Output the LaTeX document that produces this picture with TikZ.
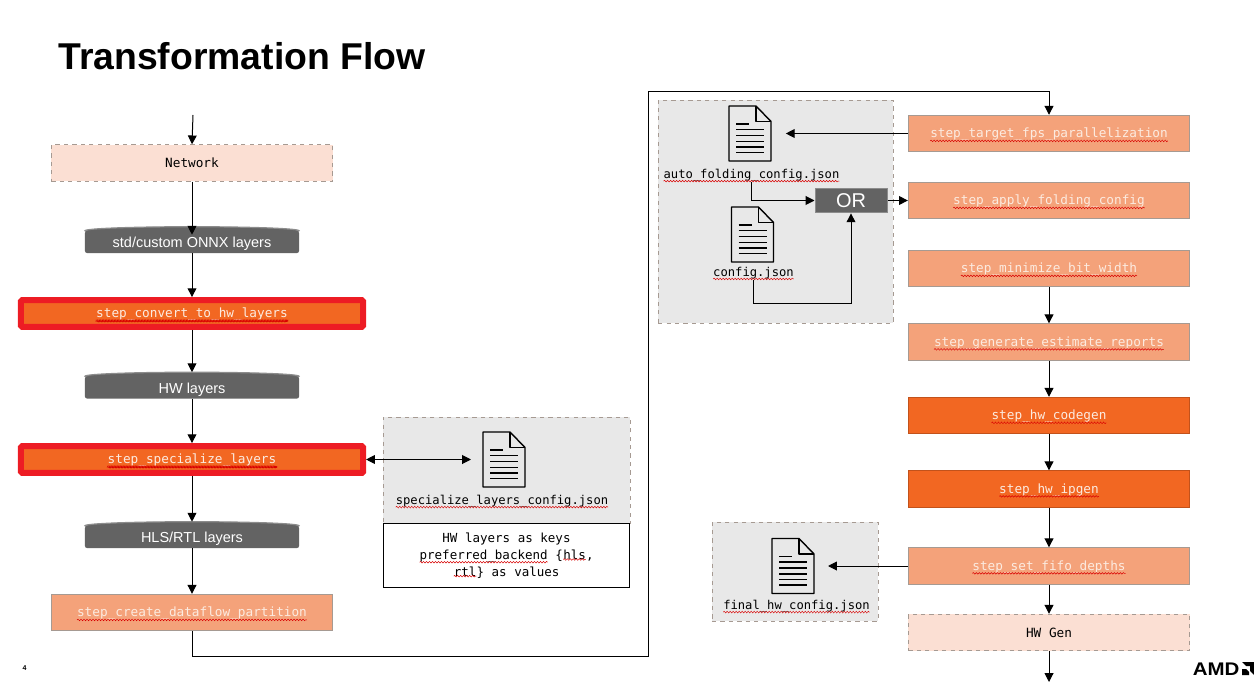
\documentclass[tikz,border=0pt]{standalone}
\usepackage{fontspec}
\setmainfont{Liberation Sans}
\newfontfamily\codefont{DejaVu Sans Mono}
\usetikzlibrary{positioning, calc, arrows.meta, shapes.geometric, decorations.pathmorphing}

\definecolor{hlpeach}{HTML}{FBDFD3}
\definecolor{stepsalmon}{HTML}{F4A27A}
\definecolor{steporange}{HTML}{F26722}
\definecolor{panelgray}{HTML}{E8E8E8}
\definecolor{diskgray}{HTML}{636363}
\definecolor{diskrim}{HTML}{8C8C8C}
\definecolor{edgegray}{HTML}{A69A92}
\definecolor{alertred}{HTML}{ED1C24}
\definecolor{steptext}{HTML}{FCEBE0}

\newcommand{\squig}[1]{\tikz[baseline=(w.base)]{\node[wavetext] (w) {#1}; \draw[wave] (w.south west) -- (w.south east); \path ([yshift=2.2pt]w.north);}}

\begin{document}
\begin{tikzpicture}[
        x=0.025cm, y=-0.025cm,
        stepbox/.style={rectangle, draw=edgegray, fill=stepsalmon, line width=0.25mm, minimum width=7.03cm, minimum height=0.91cm, text=steptext, font=\codefont\fontsize{9.05}{11}\selectfont},
        hwbox/.style={stepbox, fill=steporange, draw=steporange!80!black},
        redbox/.style={rectangle, rounded corners=0.3mm, draw=alertred, fill=steporange, line width=1.5mm, minimum width=8.55cm, minimum height=0.67cm, text=steptext, font=\codefont\fontsize{9.05}{11}\selectfont},
        netbox/.style={stepbox, fill=hlpeach, dashed, text=black},
        disk/.style={rectangle, rounded corners=0.5mm, fill=diskgray, minimum width=5.35cm, minimum height=0.55cm, inner sep=0pt, text=white, text height=2.8mm, text depth=0pt, font=\fontsize{10.3}{12}\selectfont,
            append after command={\pgfextra{\draw[diskrim, fill=diskgray, line width=0.3mm] (\tikzlastnode.north) ellipse [x radius=107, y radius=4];}}},
        panel/.style={rectangle, draw=edgegray, fill=panelgray, dashed, line width=0.2mm},
        filelabel/.style={inner sep=0pt, font=\codefont\fontsize{8.65}{10}\selectfont},
        wavetext/.style={rectangle, draw=none, fill=none, inner sep=0pt, outer sep=0pt, minimum width=0pt, minimum height=0pt, anchor=center, line width=0pt, solid},
        wave/.style={draw=red!85!black, solid, line width=0.12mm, decorate, decoration={snake, segment length=0.75mm, amplitude=0.2mm}},
        arrow/.style={-{Triangle[length=2.2mm, width=2.2mm]}, line width=0.25mm, draw=black},
        docicon/.pic={
            \node[minimum width=1.05cm, minimum height=1.38cm, inner sep=0pt, outer xsep=0.3cm] (-box) {};
            \draw[line width=0.35mm, line join=round, fill=panelgray] (-21,-27.5) -- (6,-27.5) -- (21,-12) -- (21,27.5) -- (-21,27.5) -- cycle;
            \draw[line width=0.35mm, line join=round] (6,-27.5) -- (6,-12) -- (21,-12);
            \draw[line width=0.35mm] (-14,-9.5) -- (-1,-9.5);
            \foreach \liney in {-4,2,8,13.5,19} { \draw[line width=0.35mm] (-14,\liney) -- (14,\liney); }
        }
    ]
        \useasboundingbox (0,0) rectangle (1254,682);

        % --- TITLE ---
        \node[anchor=base west, inner sep=0pt, font=\fontsize{26.56}{30}\selectfont\bfseries] (title) at (58,70) {Transformation Flow};
        \node[inner sep=0pt, font=\fontsize{5}{6}\selectfont\bfseries] (pagenum) at (24.5,668) {4};

        % --- LEFT COLUMN ---
        \coordinate (start) at (193,115);
        \node[netbox] (network) at (192,163) {Network};
        \node[disk] (onnx) at (192,242) {std/custom ONNX layers};
        \node[redbox] (convert) at (192,313.5) {\squig{step\_convert\_to\_hw\_layers}};
        \node[disk] (hwlayers) at (192,387.5) {HW layers};
        \node[redbox] (specialize) at (192,459.5) {\squig{step\_specialize\_layers}};
        \node[disk] (hlsrtl) at (192,537) {HLS/RTL layers};
        \node[stepbox] (partition) at (192,612.5) {\squig{step\_create\_dataflow\_partition}};

        % --- SPECIALIZE CONFIG ---
        \node[panel, minimum width=6.17cm, minimum height=2.65cm] (specpanel) at (506.5,470) {};
        \pic (specdoc) at (504,459.5) {docicon};
        \node[filelabel] (speclabel) at (502,500) {\squig{specialize\_layers\_config.json}};
        \node[rectangle, draw=black, fill=white, line width=0.25mm, minimum width=6.17cm, minimum height=1.62cm, align=center, filelabel, font=\codefont\fontsize{8.9}{12}\selectfont] (specnote) at (506.5,555.5) {HW layers as keys\\\squig{preferred\_backend} \{\squig{hls},\\\squig{rtl}\} as values};

        % --- FOLDING CONFIG ---
        \node[panel, minimum width=5.87cm, minimum height=5.57cm] (foldpanel) at (775.5,211.5) {};
        \pic (autodoc) at (750,133.5) {docicon};
        \node[filelabel] (autolabel) at (751.5,174) {\squig{auto\_folding\_config.json}};
        \pic (cfgdoc) at (752.5,234.5) {docicon};
        \node[filelabel] (cfglabel) at (753.5,272) {\squig{config.json}};
        \node[rectangle, draw=diskrim, fill=diskgray, line width=0.25mm, minimum width=1.8cm, minimum height=0.62cm, inner sep=0pt, text=white, font=\fontsize{14.2}{16}\selectfont] (ornode) at (851,200.5) {OR};

        % --- RIGHT COLUMN ---
        \node[stepbox] (target) at (1049,133.5) {\squig{step\_target\_fps\_parallelization}};
        \node[stepbox] (folding) at (1049,200.5) {\squig{step\_apply\_folding\_config}};
        \node[stepbox] (minimize) at (1049,268.5) {\squig{step\_minimize\_bit\_width}};
        \node[stepbox] (estimate) at (1049,342) {\squig{step\_generate\_estimate\_reports}};
        \node[hwbox] (codegen) at (1049,415.5) {\squig{step\_hw\_codegen}};
        \node[hwbox] (ipgen) at (1049,489) {\squig{step\_hw\_ipgen}};
        \node[stepbox] (fifo) at (1049,566) {\squig{step\_set\_fifo\_depths}};
        \node[netbox] (hwgen) at (1049,632.5) {HW Gen};
        \coordinate (finish) at (1049,682);

        % --- FINAL CONFIG ---
        \node[panel, minimum width=4.15cm, minimum height=2.47cm] (finalpanel) at (795,571.5) {};
        \pic (finaldoc) at (793,566) {docicon};
        \node[filelabel] (finallabel) at (796.5,605) {\squig{final\_hw\_config.json}};

        % --- CONNECTIONS ---
        \draw[arrow] (start) -- (network.north);
        \draw[arrow] (network.south) -- ($(onnx.north)+(0,4)$);
        \draw[arrow] (onnx.south) -- (convert.north);
        \draw[arrow] (convert.south) -- ($(hwlayers.north)+(0,-4)$);
        \draw[arrow] (hwlayers.south) -- (specialize.north);
        \draw[arrow] (specialize.south) -- ($(hlsrtl.north)+(0,-4)$);
        \draw[arrow] (hlsrtl.south) -- (partition.north);
        \draw[{Triangle[length=2.2mm, width=2.2mm]}-{Triangle[length=2.2mm, width=2.2mm]}, line width=0.25mm] (specialize.east) -- (specdoc-box.west);

        \coordinate (bendlow) at (648,656);
        \coordinate (bendhigh) at (648,92);
        \draw[arrow] (partition.south) |- (bendlow) -- (bendhigh) -| (target.north);

        \draw[arrow, shorten >=0.7mm] (target.west) -- (autodoc-box.east);
        \draw[arrow] (autolabel.south) |- (ornode.west);
        \coordinate (cfgbend) at (851,303);
        \draw[arrow] (cfglabel.south) |- (cfgbend) -- (ornode.south);
        \draw[arrow] (ornode.east) -- (folding.west);

        \draw[arrow] (minimize.south) -- (estimate.north);
        \draw[arrow] (estimate.south) -- (codegen.north);
        \draw[arrow] (codegen.south) -- (ipgen.north);
        \draw[arrow] (ipgen.south) -- (fifo.north);
        \draw[arrow, shorten >=0.5mm] (fifo.west) -- (finaldoc-box.east);
        \draw[arrow] (fifo.south) -- (hwgen.north);
        \draw[arrow] (hwgen.south) -- (finish);

        % --- LOGO ---
        \node[anchor=base west, inner sep=0pt, xscale=1.12, font=\fontsize{13}{15}\selectfont\bfseries] (amdlogo) at (1192.5,675) {AMD};
        \fill[black] (1242,662) -- (1254,662) -- (1254,675) -- (1250,671) -- (1250,666) -- (1246,666) -- cycle;
        \fill[black] (1242,675) -- (1242,669) -- (1246,669) -- (1249,672) -- (1249,675) -- cycle;
    \end{tikzpicture}
\end{document}
